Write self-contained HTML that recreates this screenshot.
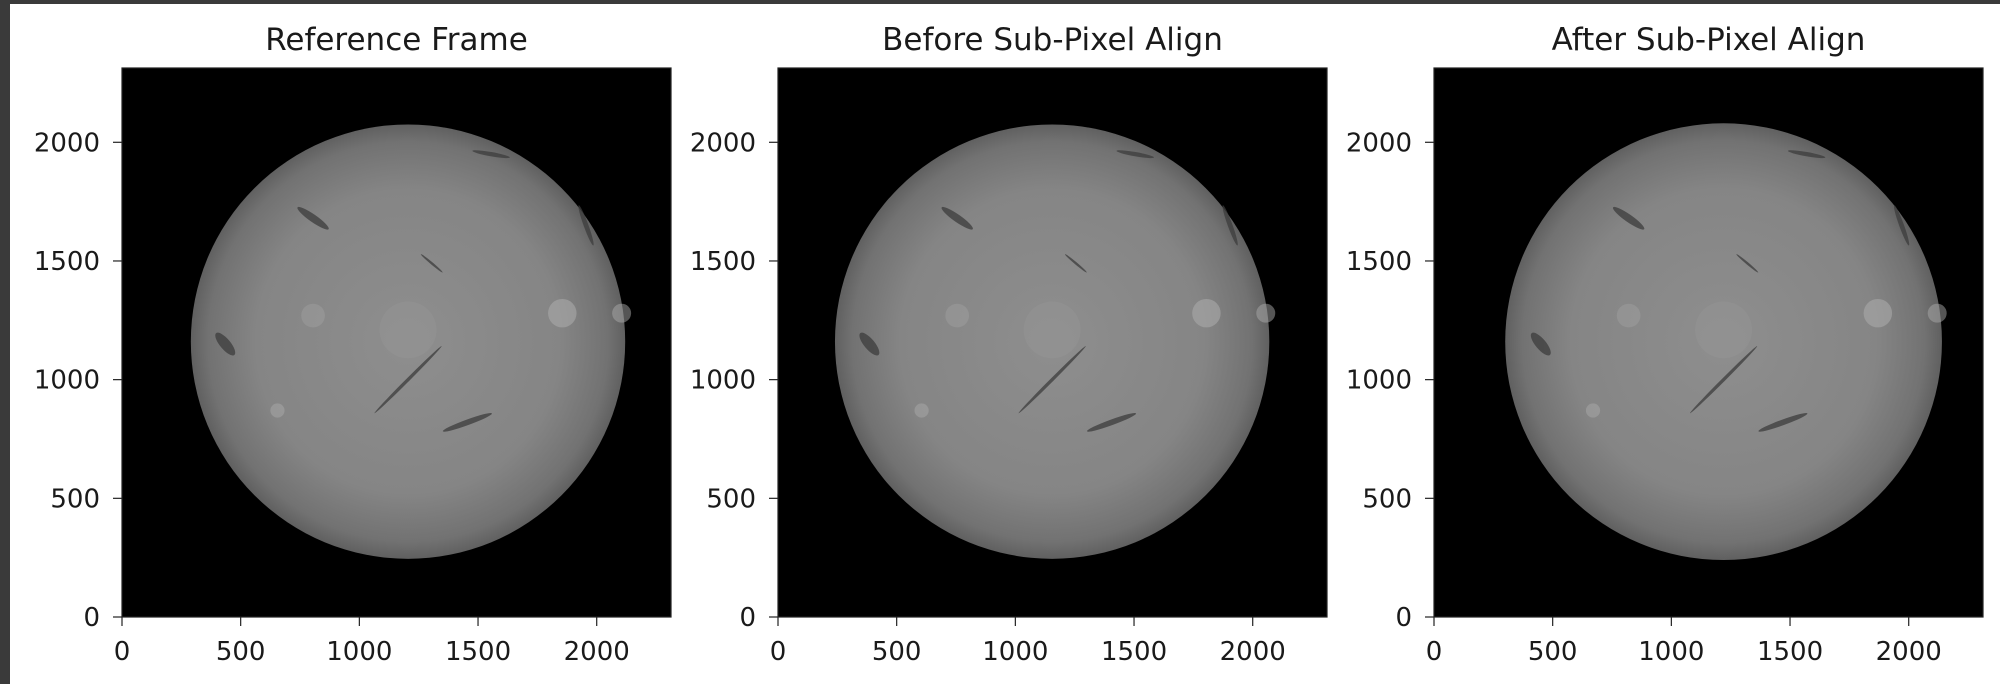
<!DOCTYPE html>
<html><head><meta charset="utf-8">
<style>
html,body{margin:0;padding:0;background:#fff;}
svg{display:block;}
text{font-family:"DejaVu Sans","Liberation Sans",sans-serif;fill:#1a1a1a;}
</style></head>
<body>
<svg id="fig" width="2000" height="684" viewBox="0 0 2000 684" xmlns="http://www.w3.org/2000/svg">
<defs>
<radialGradient id="sunGrad" cx="50%" cy="50%" r="50%">
<stop offset="0%" stop-color="#8e8e8e"/>
<stop offset="70%" stop-color="#858585"/>
<stop offset="92%" stop-color="#727272"/>
<stop offset="100%" stop-color="#606060"/>
</radialGradient>
</defs>
<rect x="0" y="0" width="2000" height="684" fill="#fff"/>
<rect x="0" y="0" width="2000" height="4" fill="#3a3a3a"/>
<rect x="0" y="0" width="10" height="684" fill="#3a3a3a"/>
<g id="panels"></g>
</svg>
<script>
const titles = ["Reference Frame", "Before Sub-Pixel Align", "After Sub-Pixel Align"];
const sunCX = [1205, 1155, 1220];
const sunCY = [1160, 1160, 1160];
const sunR = [915, 915, 920];
const xTicks = [0, 500, 1000, 1500, 2000];
const yTicks = [0, 500, 1000, 1500, 2000];
const extent = 2313;
// features relative to sun center (data units)
const filamentDX = [-400, -770, 0, 250, 350, 750, 100];
const filamentDY = [520, -10, -160, -340, 790, 490, 330];
const filamentRX = [80, 60, 200, 110, 80, 90, 60];
const filamentRY = [16, 22, 7, 12, 9, 10, 5];
const filamentA = [-35, -50, 45, 20, -10, -70, -40];
const plageDX = [650, -400, -550, 900, 0];
const plageDY = [120, 110, -290, 120, 50];
const plageR = [60, 50, 30, 40, 120];
const plageO = [0.6, 0.35, 0.5, 0.5, 0.15];

const axLeft = [122, 778, 1434];
const axTop = 68, axSize = 549;
const scale = axSize / extent;
const NS = "http://www.w3.org/2000/svg";
const root = document.getElementById("panels");
function mk(tag, attrs, parent){const e=document.createElementNS(NS,tag);for(const k in attrs)e.setAttribute(k,attrs[k]);parent.appendChild(e);return e;}

for (let p = 0; p < 3; p++) {
  const L = axLeft[p];
  const X = v => L + v * scale;
  const Y = v => axTop + axSize - v * scale;
  const g = mk("g", {}, root);
  
  
  const bg = mk("rect", {x:L, y:axTop, width:axSize, height:axSize, fill:"#000"}, g);
  
  
  const sun = mk("circle", {cx:X(sunCX[p]), cy:Y(sunCY[p]), r:sunR[p]*scale, fill:"url(#sunGrad)"}, g);
  
  
  for (let i = 0; i < plageDX.length; i++) {
    const pl = mk("circle", {cx:X(sunCX[p]+plageDX[i]), cy:Y(sunCY[p]+plageDY[i]), r:plageR[i]*scale, fill:"#aaaaaa", opacity:plageO[i]}, g);
    
    
  }
  for (let i = 0; i < filamentDX.length; i++) {
    const cx = X(sunCX[p]+filamentDX[i]), cy = Y(sunCY[p]+filamentDY[i]);
    const f = mk("ellipse", {cx:cx, cy:cy, rx:filamentRX[i]*scale, ry:filamentRY[i]*scale, fill:"#3c3c3c", opacity:"0.75", transform:`rotate(${-filamentA[i]} ${cx} ${cy})`}, g);
    
    
  }
  const frame = mk("rect", {x:L, y:axTop, width:axSize, height:axSize, fill:"none", stroke:"#222", "stroke-width":1.2}, g);
  
  
  const t = mk("text", {x:L+axSize/2, y:50, "font-size":31, "text-anchor":"middle"}, g);
  t.textContent = titles[p];
  
  
  for (const v of xTicks) {
    const tk = mk("line", {x1:X(v), x2:X(v), y1:axTop+axSize, y2:axTop+axSize+9, stroke:"#222", "stroke-width":1.2}, g);
    
    
    const tl = mk("text", {x:X(v), y:axTop+axSize+43, "font-size":26, "text-anchor":"middle"}, g);
    tl.textContent = v;
    
    
  }
  for (const v of yTicks) {
    const tk = mk("line", {x1:L-9, x2:L, y1:Y(v), y2:Y(v), stroke:"#222", "stroke-width":1.2}, g);
    
    
    const tl = mk("text", {x:L-22, y:Y(v)+9, "font-size":26, "text-anchor":"end"}, g);
    tl.textContent = v;
    
    
  }
}
</script>
</body></html>
